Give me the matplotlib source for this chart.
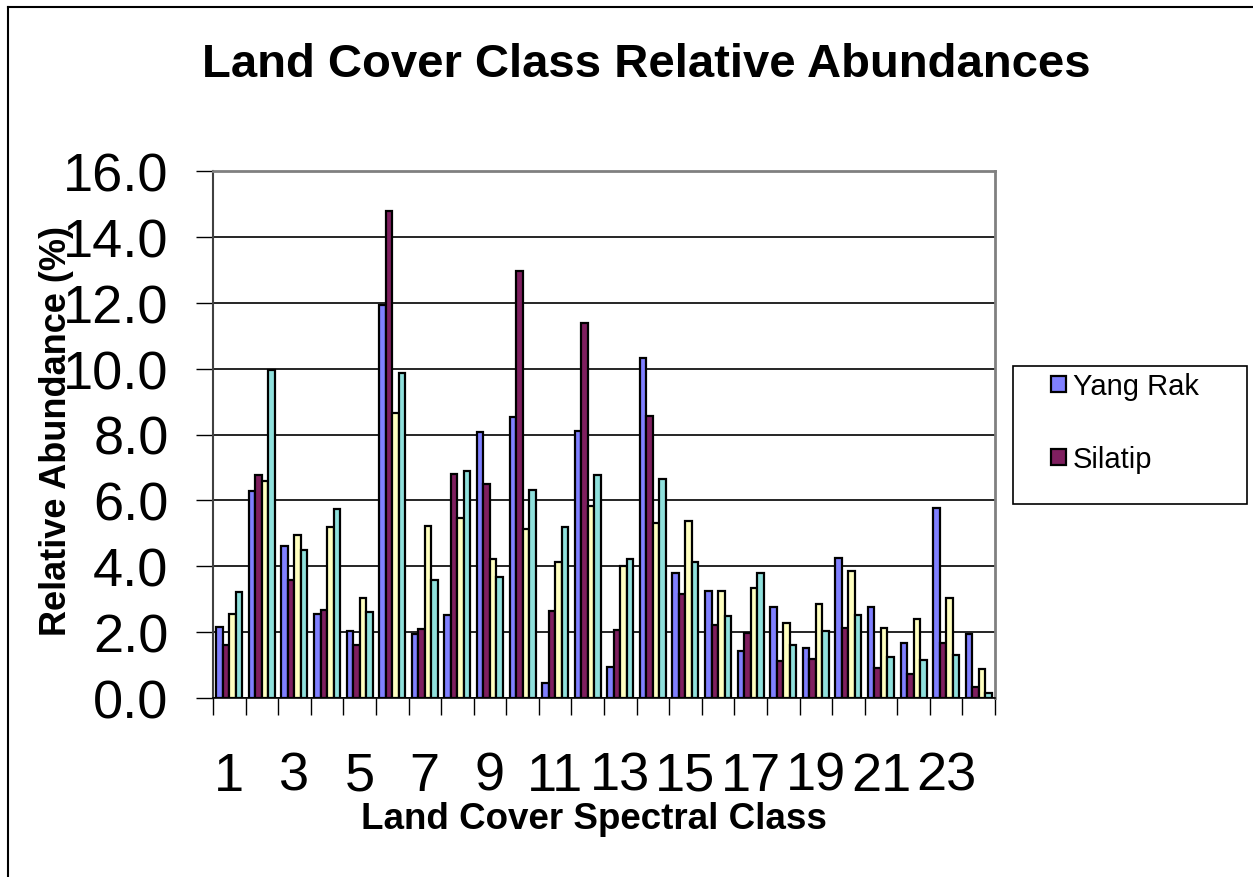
import numpy as np
import matplotlib
matplotlib.use("Agg")
import matplotlib.pyplot as plt
from matplotlib.patches import Rectangle, Patch
from matplotlib.lines import Line2D

plt.rcParams['font.family'] = ['Liberation Sans', 'DejaVu Sans']

# relative abundance (%) per spectral class, one list per series
classes = list(range(1, 25))
yang_rak = [2.16, 6.27, 4.62, 2.56, 2.03, 11.93, 1.94, 2.52, 8.07, 8.52, 0.45, 8.10,
            0.93, 10.31, 3.79, 3.25, 1.42, 2.75, 1.51, 4.24, 2.75, 1.67, 5.76, 1.95]
silatip = [1.61, 6.78, 3.57, 2.67, 1.61, 14.78, 2.10, 6.81, 6.50, 12.95, 2.63, 11.39,
           2.07, 8.57, 3.17, 2.23, 1.97, 1.12, 1.19, 2.13, 0.91, 0.73, 1.67, 0.33]
series3 = [2.54, 6.60, 4.94, 5.18, 3.05, 8.64, 5.21, 5.48, 4.23, 5.12, 4.12, 5.84,
           4.01, 5.30, 5.36, 3.25, 3.34, 2.29, 2.84, 3.85, 2.12, 2.40, 3.04, 0.88]
series4 = [3.21, 9.95, 4.50, 5.75, 2.62, 9.86, 3.57, 6.89, 3.68, 6.30, 5.18, 6.78,
           4.23, 6.65, 4.12, 2.48, 3.80, 1.60, 2.02, 2.53, 1.24, 1.16, 1.32, 0.14]

series_names = ["Yang Rak", "Silatip", "", ""]
colors = ["#8080FF", "#7F1F5F", "#FFFFC0", "#8FE0DC"]

W, H = 1253, 878
fig = plt.figure(figsize=(W / 100, H / 100), dpi=100)
ax = fig.add_axes([213 / W, 1 - 699 / H, (995 - 213) / W, (699 - 172) / H])

x = np.arange(1, len(classes) + 1)
bw = 0.2
all_series = [yang_rak, silatip, series3, series4]
for i, (vals, col) in enumerate(zip(all_series, colors)):
    ax.bar(x + (i - 1.5) * bw, vals, width=bw, color=col,
           edgecolor="black", linewidth=1.6, zorder=3)

ax.set_xlim(0.5, len(classes) + 0.5)
ax.set_ylim(0, 16)
ax.set_yticks(np.arange(0, 17, 2))
ax.set_yticklabels([f"{v:.1f}" for v in np.arange(0, 17, 2)], fontsize=39)
ax.yaxis.grid(True, color="black", linewidth=1.2, zorder=0)
ax.tick_params(axis="y", direction="out", length=12, width=1, pad=20)

# class labels on odd classes, ticks between groups
ax.set_xticks(x[::2])
ax.set_xticklabels([str(c) for c in classes[::2]], fontsize=39)
ax.set_xticks(np.arange(0.5, len(classes) + 1, 1), minor=True)
ax.tick_params(axis="x", which="major", length=0, pad=38)
ax.tick_params(axis="x", which="minor", direction="out", length=12, width=1)

for side in ["top", "right"]:
    ax.spines[side].set_color("#808080")
    ax.spines[side].set_linewidth(2)
ax.spines["left"].set_color("#404040")
ax.spines["left"].set_linewidth(1.5)
ax.spines["bottom"].set_color("black")
ax.spines["bottom"].set_linewidth(1.2)

fig.text(646 / W, 1 - 65 / H, "Land Cover Class Relative Abundances",
         fontsize=34, fontweight="bold", ha="center", va="center")
fig.text(594 / W, 1 - 820 / H, "Land Cover Spectral Class",
         fontsize=26.5, fontweight="bold", ha="center", va="center")
fig.text(57 / W, 1 - 431 / H, "Relative Abundance (%)",
         fontsize=26, fontweight="bold", ha="center", va="center", rotation=90)

# legend box (only the first two entries fit inside)
fig.add_artist(Rectangle((1013 / W, 1 - 505 / H), (1247 - 1013) / W, (505 - 367) / H,
                         transform=fig.transFigure, facecolor="white",
                         edgecolor="black", linewidth=1.2))
handles = [Patch(facecolor=colors[i], edgecolor="black", linewidth=1.6) for i in range(2)]
fig.legend(handles, series_names[:2], loc="upper left",
           bbox_to_anchor=(1025 / W, 1 - 347 / H), frameon=False, fontsize=21,
           handlelength=0.5, handleheight=0.5, handletextpad=0.25, labelspacing=1.55)

# chart area border
fig.add_artist(Line2D([8 / W, 8 / W], [0, 1 - 8 / H], transform=fig.transFigure,
                      color="black", linewidth=1.5))
fig.add_artist(Line2D([8 / W, 1], [1 - 8 / H, 1 - 8 / H], transform=fig.transFigure,
                      color="black", linewidth=1.5))

fig.savefig("out.png", dpi=100)
